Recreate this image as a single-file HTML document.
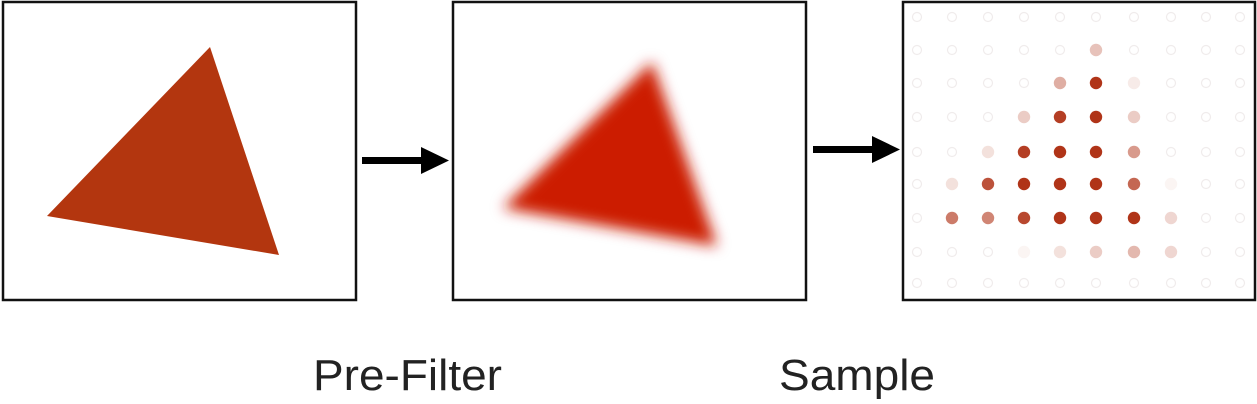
<!DOCTYPE html>
<html><head><meta charset="utf-8"><style>
html,body{margin:0;padding:0;background:#fff;width:1257px;height:404px;overflow:hidden}
</style></head><body>
<svg width="1257" height="404" viewBox="0 0 1257 404" xmlns="http://www.w3.org/2000/svg">
<defs><filter id="blur" x="-30%" y="-30%" width="160%" height="160%"><feGaussianBlur stdDeviation="7"/></filter></defs>
<g>
<rect x="3" y="2" width="353" height="298" fill="#fff" stroke="#111" stroke-width="2.5"/>
<polygon points="210,47 47,216 279,255" fill="#b3360f"/>
</g>
<g>
<rect x="362" y="157" width="62" height="7" fill="#000"/>
<polygon points="421,147 449,160.5 421,174" fill="#000"/>
</g>
<g>
<rect x="453" y="2" width="353" height="298" fill="#fff" stroke="#111" stroke-width="2.5"/>
<polygon points="652,62 503,208 717,246" fill="#cc1a00" filter="url(#blur)"/>
</g>
<g>
<rect x="813" y="146" width="62" height="7" fill="#000"/>
<polygon points="872,136 900,149.5 872,163" fill="#000"/>
</g>
<g>
<rect x="903" y="2" width="352" height="298" fill="#fff" stroke="#111" stroke-width="2.5"/>
<g id="dots"></g>
</g>
<text x="313" y="390" font-family="Liberation Sans, sans-serif" font-size="44" fill="#222" textLength="189" lengthAdjust="spacingAndGlyphs">Pre-Filter</text>
<text x="779" y="390" font-family="Liberation Sans, sans-serif" font-size="44" fill="#222" textLength="156" lengthAdjust="spacingAndGlyphs">Sample</text>
</svg>
<script>
const colX=[917,952,988,1024,1060,1096,1134,1171,1206,1240];
const rowY=[17,50,83,117,152,184,218,252,283];
const intensity=[
[0,0,0,0,0,0,0,0,0,0],
[0,0,0,0,0,0.3,0,0,0,0],
[0,0,0,0,0.4,1,0.1,0,0,0],
[0,0,0,0.25,0.95,1,0.25,0,0,0],
[0,0,0.15,0.95,1,1,0.5,0,0,0],
[0,0.15,0.85,1,1,1,0.75,0.05,0,0],
[0,0.65,0.6,0.9,1,1,1,0.2,0,0],
[0,0,0,0.05,0.15,0.25,0.35,0.2,0,0],
[0,0,0,0,0,0,0,0,0,0]];
const g=document.getElementById('dots');
const NS='http://www.w3.org/2000/svg';
const base=[176,52,24];
for(let r=0;r<rowY.length;r++)for(let c=0;c<colX.length;c++){
  const v=intensity[r][c];
  const el=document.createElementNS(NS,'circle');
  
  
  el.setAttribute('cx',colX[c]);el.setAttribute('cy',rowY[r]);
  if(v>0){
    const col=base.map(b=>Math.round(255-(255-b)*v));
    el.setAttribute('r',6.2);
    el.setAttribute('fill','rgb('+col.join(',')+')');
  }else{
    el.setAttribute('r',4.5);
    el.setAttribute('fill','none');
    el.setAttribute('stroke','#f0ecec');
    el.setAttribute('stroke-width','1.2');
  }
  g.appendChild(el);
}
</script>
</body></html>
